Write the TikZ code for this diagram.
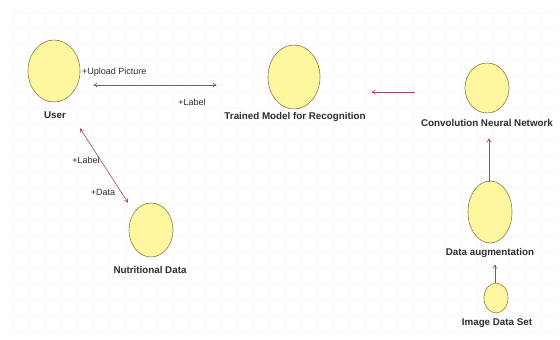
\documentclass[tikz,border=0pt]{standalone}
\usepackage{fontspec}
\setmainfont{Liberation Sans}
\usetikzlibrary{shapes.geometric,arrows.meta}
\definecolor{ucfill}{RGB}{255,246,160}
\definecolor{ucdraw}{RGB}{150,120,70}
\definecolor{conn}{RGB}{165,70,100}
\definecolor{txt}{RGB}{45,45,45}
\definecolor{gridc}{RGB}{249,249,250}
\tikzset{
  uc/.style={ellipse, draw=ucdraw, fill=ucfill, line width=0.6pt, inner sep=0pt},
  uclabel/.style={font=\bfseries\fontsize{9.8}{11}\selectfont, text=txt, inner sep=1pt},
  rolelabel/.style={font=\fontsize{9}{10}\selectfont, text=txt, inner sep=1pt},
  conn/.style={draw=conn, line width=0.6pt},
  tip/.style={-{To[length=4pt,width=5pt]}},
  both/.style={{To[length=4pt,width=5pt]}-{To[length=4pt,width=5pt]}}
}
\begin{document}
\begin{tikzpicture}[x=1pt,y=-1pt]
\useasboundingbox (0,0) rectangle (560,340);
\fill[white] (0,0) rectangle (560,340);
\foreach \gx in {13,29,...,556} \draw[gridc, line width=0.4pt] (\gx,12) -- (\gx,338);
\foreach \gy in {12,28,...,338} \draw[gridc, line width=0.4pt] (13,\gy) -- (556,\gy);

\node[uc, minimum width=52, minimum height=62] (user) at (54,71) {};
\node[uclabel] (userL) at (55,115) {User};
\node[uc, minimum width=52, minimum height=64] (trained) at (294,77) {};
\node[uclabel] (trainedL) at (295,117) {Trained Model for Recognition};
\node[uc, minimum width=44, minimum height=50] (cnn) at (487,88) {};
\node[uclabel] (cnnL) at (487,123) {Convolution Neural Network};
\node[uc, minimum width=44, minimum height=62] (aug) at (490,212) {};
\node[uclabel] (augL) at (490,253) {Data augmentation};
\node[uc, minimum width=24, minimum height=30] (img) at (496,298) {};
\node[uclabel] (imgL) at (497,323) {Image Data Set};
\node[uc, minimum width=44, minimum height=54] (nut) at (151,230) {};
\node[uclabel] (nutL) at (150,270) {Nutritional Data};

% User <-> Trained model
\draw[conn, both] ([shift={(13,14)}]user.east) -- ([shift={(-51,8)}]trained.west);
\node[rolelabel, anchor=west] (up) at (81,72) {+Upload Picture};
\node[rolelabel] (lab1) at (192,102) {+Label};

% CNN -> Trained model
\draw[conn, tip] ([shift={(-50,4)}]cnn.west) -- ([shift={(-93,4)}]cnn.west);

% Data augmentation -> CNN
\draw[conn, tip] ([shift={(-1,1)}]aug.north) -- ([shift={(2,25)}]cnn.south);

% Image data set -> Data augmentation
\draw[conn, tip] ([shift={(-1,0)}]img.north) -- ([shift={(-1,-18)}]img.north);

% User <-> Nutritional data
\draw[conn, both] ([shift={(26,26)}]user.south) -- ([shift={(-23,0)}]nut.north);
\node[rolelabel] (lab2) at (86,160) {+Label};
\node[rolelabel] (dat) at (103,192) {+Data};
\end{tikzpicture}
\end{document}
